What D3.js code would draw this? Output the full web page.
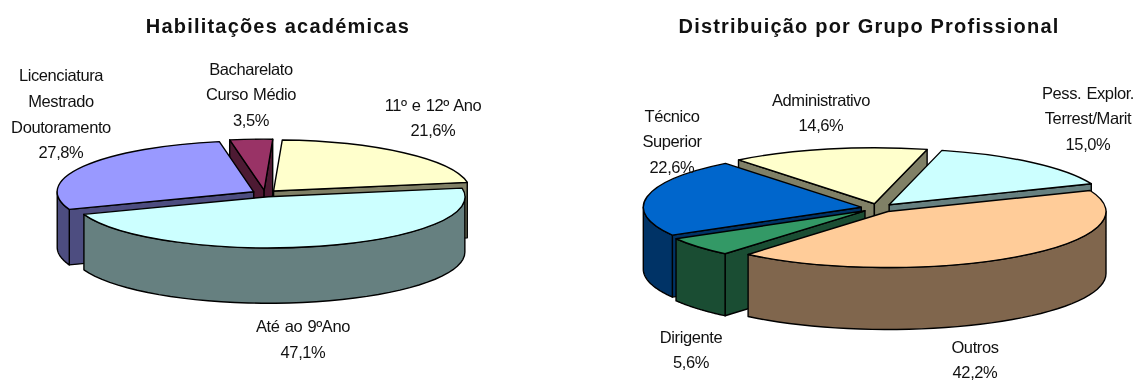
<!DOCTYPE html>
<html><head><meta charset="utf-8">
<script src="https://cdn.jsdelivr.net/npm/d3@7"></script>
<style>
html,body{margin:0;padding:0;background:#fff}
svg{display:block;filter:blur(0.45px)}
text{font-family:"Liberation Sans",Arial,sans-serif;fill:#111;text-anchor:middle}
.lab{font-size:16.5px;letter-spacing:-0.4px;word-spacing:1px}
.ttl{font-size:20px;font-weight:bold;letter-spacing:1.2px}
</style></head><body>
<svg id="c" width="1138" height="381"></svg>
<script>
// Left chart data
const eduTitle = "Habilitações académicas";
const eduCategories = [["11º e 12º Ano"],["Até ao 9ºAno"],["Licenciatura","Mestrado","Doutoramento"],["Bacharelato","Curso Médio"]];
const eduValues = [21.6,47.1,27.8,3.5];
const eduTop = ["#FFFFCC","#CCFFFF","#9999FF","#993366"];
const eduSide = ["#808066","#668080","#4D4D80","#4D1A33"];
// Right chart data
const jobTitle = "Distribuição por Grupo Profissional";
const jobCategories = [["Pess. Explor.","Terrest/Marit"],["Outros"],["Dirigente"],["Técnico","Superior"],["Administrativo"]];
const jobValues = [15.0,42.2,5.6,22.6,14.6];
const jobTop = ["#CCFFFF","#FFCC99","#339966","#0066CC","#FFFFCC"];
const jobSide = ["#668080","#80664D","#1A4D33","#003366","#808066"];
// Layout (label anchors: centre x, first baseline y, line step)
const eduLayout = {cx:265,cy:193.5,rx:196.5,ry:51,explode:13,start:2.5,depth:55.5,titleX:278,
  labels:[[433,110.5],[303,332],[61,81],[251,74.5]]};
const jobLayout = {cx:878,cy:208,rx:218,ry:56,explode:17,start:14,depth:62,titleX:869,
  labels:[[1088,98.5],[975,352.5],[691,342.5],[672,121.5],[821,105.5]]};
const lineStep = 25.8;

const svg = d3.select("#c");
const fmt = v => v.toFixed(1).replace(".",",")+"%";

function drawPie(title,cats,vals,tops,sides,L){
  const start = L.start*Math.PI/180;
  const arcs = d3.pie().sort(null).value(d=>d).startAngle(start).endAngle(start+2*Math.PI)(vals);
  const unit = d3.arc().innerRadius(0).outerRadius(1);
  const order = arcs.map((a,i)=>({a,i,mid:(a.startAngle+a.endAngle)/2}))
    .sort((p,q)=>Math.cos(q.mid)-Math.cos(p.mid));
  const g = svg.append("g");
  const line = d3.line();
  order.forEach(({a,i,mid})=>{
    const ax = L.cx+L.explode*Math.sin(mid), ay = L.cy-L.explode*Math.cos(mid)*L.ry/L.rx;
    const pt = t=>[ax+L.rx*Math.sin(t), ay-L.ry*Math.cos(t)];
    const down = p=>[p[0],p[1]+L.depth];
    const face = t=>line([[ax,ay],pt(t),down(pt(t)),[ax,ay+L.depth]])+"Z";
    const style = s=>s.attr("fill",sides[i]).attr("stroke","#000").attr("stroke-width",1.4).attr("stroke-linejoin","round");
    if(Math.sin(a.startAngle)<0) g.append("path").attr("d",face(a.startAngle)).call(style);
    if(Math.sin(a.endAngle)>0) g.append("path").attr("d",face(a.endAngle)).call(style);
    // outer wall: front-facing part of the rim
    [[Math.PI/2,3*Math.PI/2],[2.5*Math.PI,3.5*Math.PI]].forEach(([lo,hi])=>{
      const t0=Math.max(a.startAngle,lo), t1=Math.min(a.endAngle,hi);
      if(t1>t0){
        const ts=d3.range(0,41).map(k=>t0+(t1-t0)*k/40);
        const up=ts.map(pt), dn=ts.map(t=>down(pt(t))).reverse();
        g.append("path").attr("d",line(up.concat(dn))+"Z").call(style);
      }
    });
    g.append("path").attr("d",unit(a))
      .attr("transform",`translate(${ax},${ay}) scale(${L.rx},${L.ry})`)
      .attr("fill",tops[i]).attr("stroke","#000").attr("stroke-width",1.4)
      .attr("stroke-linejoin","round").attr("vector-effect","non-scaling-stroke");
  });
  svg.append("text").attr("class","ttl").attr("x",L.titleX).attr("y",33).text(title);
  cats.forEach((lines,i)=>{
    const [x,y]=L.labels[i];
    const t=svg.append("text").attr("class","lab");
    lines.concat([fmt(vals[i])]).forEach((s,k)=>t.append("tspan").attr("x",x).attr("y",y+k*lineStep).text(s));
  });
}
drawPie(eduTitle,eduCategories,eduValues,eduTop,eduSide,eduLayout);
drawPie(jobTitle,jobCategories,jobValues,jobTop,jobSide,jobLayout);
</script></body></html>
